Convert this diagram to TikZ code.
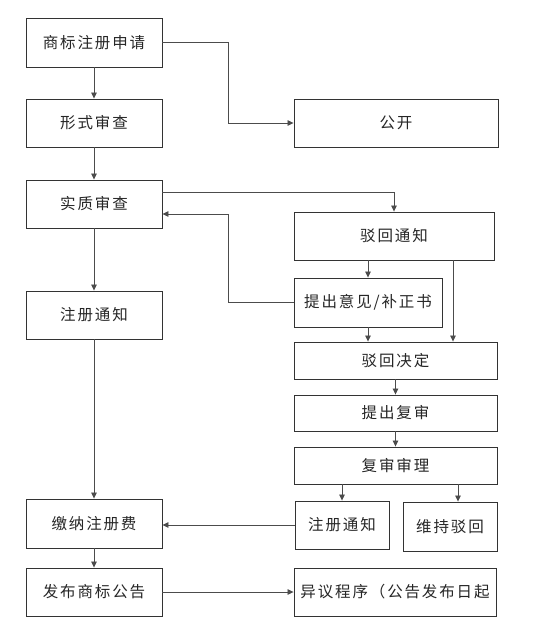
\documentclass[tikz,border=0pt]{standalone}
\usepackage{fontspec}
\newfontfamily\cjk[LetterSpace=12]{Noto Sans CJK SC}
\usetikzlibrary{arrows.meta}
\begin{document}
\begin{tikzpicture}[x=1bp,y=-1bp,
  box/.style={draw=black!80,line width=0.9bp,inner sep=0pt,anchor=center,
    font=\cjk\fontsize{15.5bp}{18bp}\selectfont,text=black!85},
  arr/.style={draw=black!70,line width=0.8bp,-{Triangle[length=6bp,width=5.5bp]}}]
\useasboundingbox[fill=white] (0,0) rectangle (558,633);
% left column
\node[box,minimum width=136bp,minimum height=49bp] (b1) at (94,42.5) {商标注册申请};
\node[box,minimum width=136bp,minimum height=48bp] (b2) at (94,123) {形式审查};
\node[box,minimum width=136bp,minimum height=48bp] (b3) at (94,204) {实质审查};
\node[box,minimum width=136bp,minimum height=48bp] (b4) at (94,315) {注册通知};
\node[box,minimum width=136bp,minimum height=49bp] (b5) at (94,523.5) {缴纳注册费};
\node[box,minimum width=136bp,minimum height=48bp] (b6) at (94,592) {发布商标公告};
% right column
\node[box,minimum width=204bp,minimum height=48bp] (gk) at (396,123) {公开};
\node[box,minimum width=200bp,minimum height=48bp] (bh) at (394,236) {驳回通知};
\node[box,minimum width=148bp,minimum height=49bp] (tc) at (368,302.5) {提出意见/补正书};
\node[box,minimum width=203bp,minimum height=37bp] (bj) at (395.5,360.5) {驳回决定};
\node[box,minimum width=203bp,minimum height=36bp] (fs) at (395.5,413) {提出复审};
\node[box,minimum width=203bp,minimum height=37bp] (fl) at (395.5,465.5) {复审审理};
\node[box,minimum width=94bp,minimum height=48bp] (zt) at (342,525) {注册通知};
\node[box,minimum width=94bp,minimum height=49bp] (wc) at (450,526.5) {维持驳回};
\node[box,minimum width=202bp,minimum height=48bp] (yy) at (395,592) {异议程序（公告发布日起};
% connectors
\draw[arr] (b1) -- (b2);
\draw[arr] (b2) -- (b3);
\draw[arr] (b3) -- (b4);
\draw[arr] (b4) -- (b5);
\draw[arr] (b5) -- (b6);
\draw[arr] (b1.east) -- (228,0 |- b1.east) |- (gk.west);
\draw[arr] (b3.east |- 0,192) -| (bh.north);
\draw[arr] (tc.west) -- (228,0 |- tc.west) |- (b3.east |- 0,214);
\draw[arr] (bh.south -| tc.north) -- (tc.north);
\draw[arr] (453,0 |- bh.south) -- (453,0 |- bj.north);
\draw[arr] (tc.south) -- (tc.south |- bj.north);
\draw[arr] (bj) -- (fs);
\draw[arr] (fs) -- (fl);
\draw[arr] (fl.south -| zt.north) -- (zt.north);
\draw[arr] (458,0 |- fl.south) -- (458,0 |- wc.north);
\draw[arr] (zt.west) -- (b5.east |- zt.west);
\draw[arr] (b6.east) -- (yy.west);
\end{tikzpicture}
\end{document}
